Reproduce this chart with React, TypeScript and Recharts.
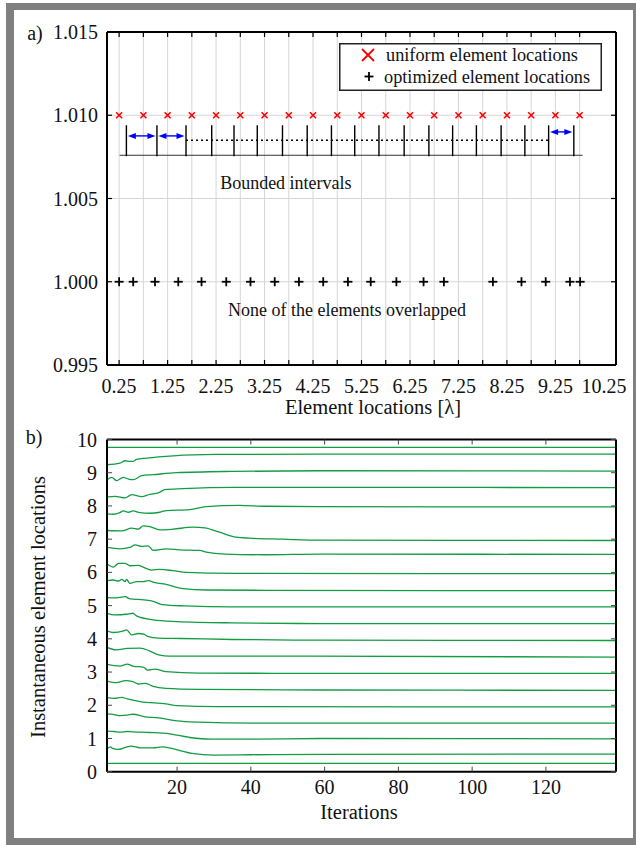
import React from 'react';
import {
  ScatterChart,
  Scatter,
  LineChart,
  Line,
  XAxis,
  YAxis,
  CartesianGrid,
  ReferenceLine,
  ReferenceDot,
  Legend,
} from 'recharts';

const FONT = '"Liberation Serif", "Times New Roman", Times, serif';
const INK = '#111111';
const GREEN = '#129c43';

// ---------- panel a) data ----------
const uniformLocations = [0.25, 0.75, 1.25, 1.75, 2.25, 2.75, 3.25, 3.75, 4.25, 4.75, 5.25, 5.75, 6.25, 6.75, 7.25, 7.75, 8.25, 8.75, 9.25, 9.75];
const optimizedLocations = [0.25, 0.54, 0.99, 1.47, 1.95, 2.46, 2.96, 3.46, 3.96, 4.46, 4.97, 5.44, 5.97, 6.53, 6.95, 7.96, 8.55, 9.05, 9.55, 9.76];
const UNIFORM_LEVEL = 1.01;
const OPTIMIZED_LEVEL = 1.0;
const seriesNames = ['uniform element locations', 'optimized element locations'];
const xTickLabels = [0.25, 1.25, 2.25, 3.25, 4.25, 5.25, 6.25, 7.25, 8.25, 9.25, 10.25];
const xTickMarks = [0.25, 0.75, 1.25, 1.75, 2.25, 2.75, 3.25, 3.75, 4.25, 4.75, 5.25, 5.75, 6.25, 6.75, 7.25, 7.75, 8.25, 8.75, 9.25, 9.75];
const yTicksTop = [0.995, 1.0, 1.005, 1.01, 1.015];
const intervalBounds = [0.4, 1.03, 1.63, 2.16, 2.62, 3.1, 3.62, 4.13, 4.63, 5.11, 5.61, 6.13, 6.64, 7.13, 7.62, 8.13, 8.62, 9.11, 9.63];
const INTERVAL_TOP = 1.0094;
const INTERVAL_BOTTOM = 1.00754;
const baselineSpan = [0.26, 9.81];
const BASELINE_LEVEL = 1.0076;
const arrowSpans = [
  [0.4, 1.03, 1.00876],
  [1.03, 1.63, 1.00876],
  [9.11, 9.63, 1.009],
];
const dottedSpan = [1.63, 9.11];
const DOTTED_LEVEL = 1.0085;
const annotations = [
  { x: 3.69, y: 1.00592, text: 'Bounded intervals' },
  { x: 4.95, y: 0.99832, text: 'None of the elements overlapped' },
];

// ---------- panel b) data: [iteration, location] ----------
const element01 = [[1, 0.25], [139, 0.25]];
const element02 = [[1, 0.7], [2, 0.75], [2.5, 0.7], [4, 0.67], [6, 0.73], [7.5, 0.77], [10, 0.72], [13.5, 0.72], [16, 0.75], [18.5, 0.7], [21, 0.63], [24, 0.55], [30, 0.5], [40, 0.51], [60, 0.52], [139, 0.53]];
const element03 = [[1, 1.22], [3, 1.21], [4.5, 1.19], [6.5, 1.21], [8, 1.2], [12.5, 1.18], [18, 1.14], [23.5, 1.03], [29, 0.98], [40, 0.98], [59, 1.0], [139, 0.99]];
const element04 = [[1, 1.74], [3, 1.72], [4.5, 1.69], [6.5, 1.7], [8, 1.73], [11, 1.66], [15, 1.62], [20, 1.53], [26, 1.49], [40, 1.46], [139, 1.46]];
const element05 = [[1, 2.23], [3, 2.21], [5, 2.24], [6.5, 2.19], [10, 2.11], [17, 2.04], [20, 1.99], [31, 1.96], [139, 1.95]];
const element06 = [[1, 2.73], [3.5, 2.68], [6, 2.74], [8, 2.71], [9.5, 2.64], [11.5, 2.66], [13.5, 2.57], [17, 2.51], [26, 2.48], [59, 2.46], [139, 2.45]];
const element07 = [[1, 3.23], [4.5, 3.18], [6.5, 3.24], [8, 3.18], [11, 3.14], [12, 3.06], [14, 3.09], [17, 3.01], [26, 2.97], [59, 2.96], [139, 2.96]];
const element08 = [[1, 3.74], [3.5, 3.67], [6.5, 3.71], [10, 3.72], [12.5, 3.64], [15, 3.52], [18, 3.48], [35, 3.48], [139, 3.45]];
const element09 = [[1, 4.24], [2.7, 4.19], [5.5, 4.24], [6.3, 4.27], [7.7, 4.12], [9.5, 4.16], [11, 4.14], [12, 4.07], [15, 4.02], [21, 4.01], [35, 3.98], [59, 3.96], [139, 3.95]];
const element10 = [[1, 4.77], [3, 4.72], [6.3, 4.74], [8, 4.77], [9, 4.69], [13.5, 4.57], [20, 4.52], [35, 4.48], [59, 4.46], [139, 4.46]];
const element11 = [[1, 5.24], [3, 5.23], [6, 5.27], [7, 5.21], [11, 5.17], [13.5, 5.13], [16, 5.03], [22, 4.99], [35, 4.96], [139, 4.96]];
const element12 = [[1, 5.75], [2.7, 5.77], [4.1, 5.74], [5, 5.79], [5.9, 5.72], [6.3, 5.79], [7.2, 5.67], [9, 5.72], [10.8, 5.72], [12.2, 5.75], [14, 5.69], [17, 5.64], [21.6, 5.51], [28, 5.47], [44, 5.46], [139, 5.45]];
const element13 = [[1, 6.26], [2.7, 6.16], [4.1, 6.27], [5.9, 6.27], [7.2, 6.2], [9.5, 6.21], [10.8, 6.16], [13.1, 6.07], [15.3, 6.09], [18.9, 6.05], [22.5, 6.0], [35, 5.97], [139, 5.96]];
const element14 = [[1, 6.75], [4.5, 6.71], [7.2, 6.75], [8.6, 6.83], [10.4, 6.78], [12.2, 6.8], [13.5, 6.66], [17.1, 6.71], [20.7, 6.68], [26.1, 6.66], [27.9, 6.61], [32.9, 6.55], [44, 6.53], [58.6, 6.55], [139, 6.54]];
const element15 = [[1, 7.26], [5, 7.25], [7.7, 7.33], [9.5, 7.3], [10.8, 7.4], [12.6, 7.38], [15.3, 7.28], [18.9, 7.3], [24.3, 7.36], [27.5, 7.34], [31.5, 7.21], [36, 7.06], [39.6, 7.03], [48.6, 7.0], [58.6, 6.97], [139, 6.96]];
const element16 = [[1, 7.76], [2.7, 7.75], [4.5, 7.8], [5.4, 7.85], [6.8, 7.81], [8.1, 7.85], [9.9, 7.8], [12.6, 7.78], [15.3, 7.81], [17.1, 7.86], [23.4, 7.89], [27.9, 7.98], [36.9, 8.02], [44, 7.99], [58.6, 7.98], [139, 7.97]];
const element17 = [[1, 8.27], [3.2, 8.29], [5.9, 8.24], [7.7, 8.34], [10.4, 8.28], [12.6, 8.35], [14.9, 8.39], [16.7, 8.49], [21.6, 8.52], [35, 8.56], [58.6, 8.56], [139, 8.55]];
const element18 = [[1, 8.79], [2.3, 8.86], [3.6, 8.76], [5.4, 8.86], [6.8, 8.81], [8.1, 8.79], [10.4, 8.91], [13.5, 8.94], [19.8, 9.0], [35, 9.04], [58.6, 9.06], [139, 9.05]];
const element19 = [[1, 9.24], [4.5, 9.29], [6, 9.36], [7, 9.34], [8, 9.34], [9, 9.4], [11.7, 9.44], [19, 9.51], [30.6, 9.55], [58.6, 9.56], [139, 9.56]];
const element20 = [[1, 9.76], [139, 9.76]];
const trajectories = [element01, element02, element03, element04, element05, element06, element07, element08, element09, element10, element11, element12, element13, element14, element15, element16, element17, element18, element19, element20];
const iterationTicks = [20, 40, 60, 80, 100, 120];
const locationTicks = [0, 1, 2, 3, 4, 5, 6, 7, 8, 9, 10];

// ---------- derived tables ----------
const uniformData = uniformLocations.map((x) => ({ x, y: UNIFORM_LEVEL }));
const optimizedData = optimizedLocations.map((x) => ({ x, y: OPTIMIZED_LEVEL }));
const trajectoryData = trajectories.map((t) => t.map(([it, v]) => ({ it, v })));

// ---------- shapes ----------
const EmptyTick = () => <g />;
const XMark = (p: any) => {
  const { cx, cy } = p;
  const s = 3;
  return (
    <g>
      <line x1={cx - s} y1={cy - s} x2={cx + s} y2={cy + s} stroke="#ff0000" strokeWidth={1.6} />
      <line x1={cx - s} y1={cy + s} x2={cx + s} y2={cy - s} stroke="#ff0000" strokeWidth={1.6} />
    </g>
  );
};
const PlusMark = (p: any) => {
  const { cx, cy } = p;
  const s = 4.5;
  return (
    <g>
      <line x1={cx - s} y1={cy} x2={cx + s} y2={cy} stroke="#000" strokeWidth={1.8} />
      <line x1={cx} y1={cy - s} x2={cx} y2={cy + s} stroke="#000" strokeWidth={1.8} />
    </g>
  );
};
const DoubleArrow = (p: any) => {
  const { x1, y1, x2, y2 } = p;
  const L = 8;
  const H = 3;
  const a = x1 + 1.5;
  const b = x2 - 1.5;
  return (
    <g>
      <line x1={a + L - 1} y1={y1} x2={b - L + 1} y2={y2} stroke="#0000ff" strokeWidth={1.4} />
      <polygon points={`${a},${y1} ${a + L},${y1 - H} ${a + L},${y1 + H}`} fill="#0000ff" />
      <polygon points={`${b},${y2} ${b - L},${y2 - H} ${b - L},${y2 + H}`} fill="#0000ff" />
    </g>
  );
};
const centerText = (text: string, size: number) => (props: any) => {
  const vb = props.viewBox || {};
  const x = vb.x + (vb.width || 0) / 2;
  const y = vb.y + (vb.height || 0) / 2;
  return (
    <text x={x} y={y} textAnchor="middle" dominantBaseline="central" style={{ fontFamily: FONT }} fontSize={size} fill={INK}>
      {text}
    </text>
  );
};
const axisText = (text: string, dx: number, dy: number, rotate: boolean) => (props: any) => {
  const vb = props.viewBox || {};
  const x = rotate ? vb.x + dx : vb.x + vb.width / 2 + dx;
  const y = rotate ? vb.y + vb.height / 2 + dy : vb.y + dy;
  return (
    <text
      x={x}
      y={y}
      textAnchor="middle"
      dominantBaseline="central"
      style={{ fontFamily: FONT }}
      fontSize={20.5}
      fill={INK}
      transform={rotate ? `rotate(-90 ${x} ${y})` : undefined}
    >
      {text}
    </text>
  );
};
const LegendBox = () => (
  <svg width={263} height={48} style={{ display: 'block' }}>
    <rect x={0.75} y={0.75} width={261.5} height={46.5} fill="#fff" stroke="#222" strokeWidth={1.5} />
    <g>
      <line x1={29 - 6} y1={12 - 6} x2={29 + 6} y2={12 + 6} stroke="#ff0000" strokeWidth={1.8} />
      <line x1={29 - 6} y1={12 + 6} x2={29 + 6} y2={12 - 6} stroke="#ff0000" strokeWidth={1.8} />
    </g>
    <g>
      <line x1={30 - 4.5} y1={33.5} x2={30 + 4.5} y2={33.5} stroke="#000" strokeWidth={1.8} />
      <line x1={30} y1={33.5 - 4.5} x2={30} y2={33.5 + 4.5} stroke="#000" strokeWidth={1.8} />
    </g>
    <text x={47} y={12} dominantBaseline="central" style={{ fontFamily: FONT }} fontSize={18.3} fill={INK}>{seriesNames[0]}</text>
    <text x={45} y={33.5} dominantBaseline="central" style={{ fontFamily: FONT }} fontSize={18.3} fill={INK}>{seriesNames[1]}</text>
  </svg>
);

const tickFont = { fontSize: 20, fill: INK, fontFamily: FONT };
const boxLine = { stroke: '#000', strokeWidth: 2 };
const tickMarkTop = { stroke: '#000', strokeWidth: 1.2 };
const tickMarkBottom = { stroke: '#444', strokeWidth: 1 };

export default function App() {
  return (
    <div style={{ position: 'absolute', left: 0, top: 0, width: 636, height: 845, background: '#fff', overflow: 'hidden', fontFamily: FONT }}>
      <svg width={636} height={845} style={{ position: 'absolute', left: 0, top: 0 }}>
        <rect x={6} y={3} width={630} height={842} fill="#808080" />
        <rect x={14} y={10} width={619} height={828} fill="#ffffff" />
        <text x={35} y={33} textAnchor="middle" dominantBaseline="central" style={{ fontFamily: FONT }} fontSize={20} fill={INK}>a)</text>
        <text x={34} y={437} textAnchor="middle" dominantBaseline="central" style={{ fontFamily: FONT }} fontSize={20} fill={INK}>b)</text>
      </svg>

      <div style={{ position: 'absolute', left: 0, top: 0 }}>
        <ScatterChart width={636} height={845} margin={{ top: 31, right: 19, bottom: 478, left: 106 }}>
          <CartesianGrid stroke="#d6d6d6" strokeWidth={1} vertical={false} />
          {xTickMarks.map((v) => (
            <ReferenceLine key={'g' + v} x={v} stroke="#d6d6d6" strokeWidth={1} />
          ))}
          <XAxis
            xAxisId={0}
            type="number"
            dataKey="x"
            domain={[0, 10.5]}
            allowDataOverflow
            ticks={xTickMarks}
            interval={0}
            tick={EmptyTick}
            tickSize={-5}
            height={1}
            axisLine={boxLine}
            tickLine={tickMarkTop}
          />
          <XAxis
            xAxisId="lab"
            type="number"
            dataKey="x"
            domain={[0, 10.5]}
            allowDataOverflow
            ticks={xTickLabels}
            interval={0}
            tickFormatter={(v: number) => v.toFixed(2)}
            tick={tickFont}
            tickLine={false}
            axisLine={false}
            tickSize={-5}
            tickMargin={18}
            height={1}
            label={axisText('Element locations [\u03bb]', 11.5, 41, false)}
          />
          <XAxis
            xAxisId="top"
            orientation="top"
            type="number"
            dataKey="x"
            domain={[0, 10.5]}
            allowDataOverflow
            ticks={xTickMarks}
            interval={0}
            tick={EmptyTick}
            tickSize={-5}
            height={1}
            axisLine={boxLine}
            tickLine={tickMarkTop}
          />
          <YAxis
            yAxisId={0}
            type="number"
            dataKey="y"
            domain={[0.995, 1.015]}
            allowDataOverflow
            ticks={yTicksTop}
            interval={0}
            tickFormatter={(v: number) => v.toFixed(3)}
            tick={tickFont}
            tickSize={-5}
            tickMargin={14}
            width={1}
            axisLine={boxLine}
            tickLine={tickMarkTop}
          />
          <YAxis
            yAxisId="right"
            orientation="right"
            type="number"
            domain={[0.995, 1.015]}
            allowDataOverflow
            ticks={yTicksTop}
            interval={0}
            tick={EmptyTick}
            tickSize={-5}
            width={1}
            axisLine={boxLine}
            tickLine={tickMarkTop}
          />

          <ReferenceLine
            segment={[{ x: baselineSpan[0], y: BASELINE_LEVEL }, { x: baselineSpan[1], y: BASELINE_LEVEL }]}
            stroke="#333"
            strokeWidth={1.1}
          />
          {intervalBounds.map((b, i) => (
            <ReferenceLine
              key={'ib' + i}
              segment={[{ x: b, y: INTERVAL_TOP }, { x: b, y: INTERVAL_BOTTOM }]}
              stroke="#000"
              strokeWidth={1.4}
            />
          ))}
          <ReferenceLine
            segment={[{ x: dottedSpan[0], y: DOTTED_LEVEL }, { x: dottedSpan[1], y: DOTTED_LEVEL }]}
            stroke="#000"
            strokeWidth={1.6}
            strokeDasharray="2 3"
          />
          {arrowSpans.map((a, i) => (
            <ReferenceLine
              key={'ar' + i}
              segment={[{ x: a[0], y: a[2] }, { x: a[1], y: a[2] }]}
              shape={DoubleArrow}
            />
          ))}
          {annotations.map((a, i) => (
            <ReferenceDot
              key={'an' + i}
              x={a.x}
              y={a.y}
              r={0}
              fill="none"
              stroke="none"
              label={centerText(a.text, 18)}
            />
          ))}

          <Scatter name={seriesNames[0]} data={uniformData} shape={XMark} isAnimationActive={false} />
          <Scatter name={seriesNames[1]} data={optimizedData} shape={PlusMark} isAnimationActive={false} />
          <Legend
            layout="horizontal"
            verticalAlign="middle"
            align="center"
            content={LegendBox}
            wrapperStyle={{ left: 339, top: 43, width: 263, height: 48 }}
          />
        </ScatterChart>
      </div>

      <div style={{ position: 'absolute', left: 0, top: 0 }}>
        <LineChart width={636} height={845} margin={{ top: 438.5, right: 19, bottom: 72.3, left: 106 }}>
          <XAxis
            xAxisId={0}
            type="number"
            dataKey="it"
            domain={[1, 139]}
            allowDataOverflow
            ticks={iterationTicks}
            interval={0}
            tick={tickFont}
            tickSize={-5}
            tickMargin={13}
            height={1}
            axisLine={boxLine}
            tickLine={tickMarkBottom}
            label={axisText('Iterations', -2.5, 40.6, false)}
          />
          <XAxis
            xAxisId="top"
            orientation="top"
            type="number"
            dataKey="it"
            domain={[1, 139]}
            allowDataOverflow
            ticks={iterationTicks}
            interval={0}
            tick={EmptyTick}
            tickSize={-5}
            height={1}
            axisLine={boxLine}
            tickLine={tickMarkBottom}
          />
          <YAxis
            yAxisId={0}
            type="number"
            domain={[0, 10]}
            allowDataOverflow
            ticks={locationTicks}
            interval={0}
            tick={tickFont}
            tickSize={-5}
            tickMargin={15}
            width={1}
            axisLine={boxLine}
            tickLine={tickMarkBottom}
            label={axisText('Instantaneous element locations', -68, 1.4, true)}
          />
          <YAxis
            yAxisId="right"
            orientation="right"
            type="number"
            domain={[0, 10]}
            allowDataOverflow
            ticks={locationTicks}
            interval={0}
            tick={EmptyTick}
            tickSize={-5}
            width={1}
            axisLine={boxLine}
            tickLine={tickMarkBottom}
          />
          {trajectoryData.map((d, i) => (
            <Line
              key={'el' + i}
              data={d}
              dataKey="v"
              type="monotone"
              stroke={GREEN}
              strokeWidth={1.3}
              dot={false}
              activeDot={false}
              isAnimationActive={false}
            />
          ))}
        </LineChart>
      </div>
    </div>
  );
}
